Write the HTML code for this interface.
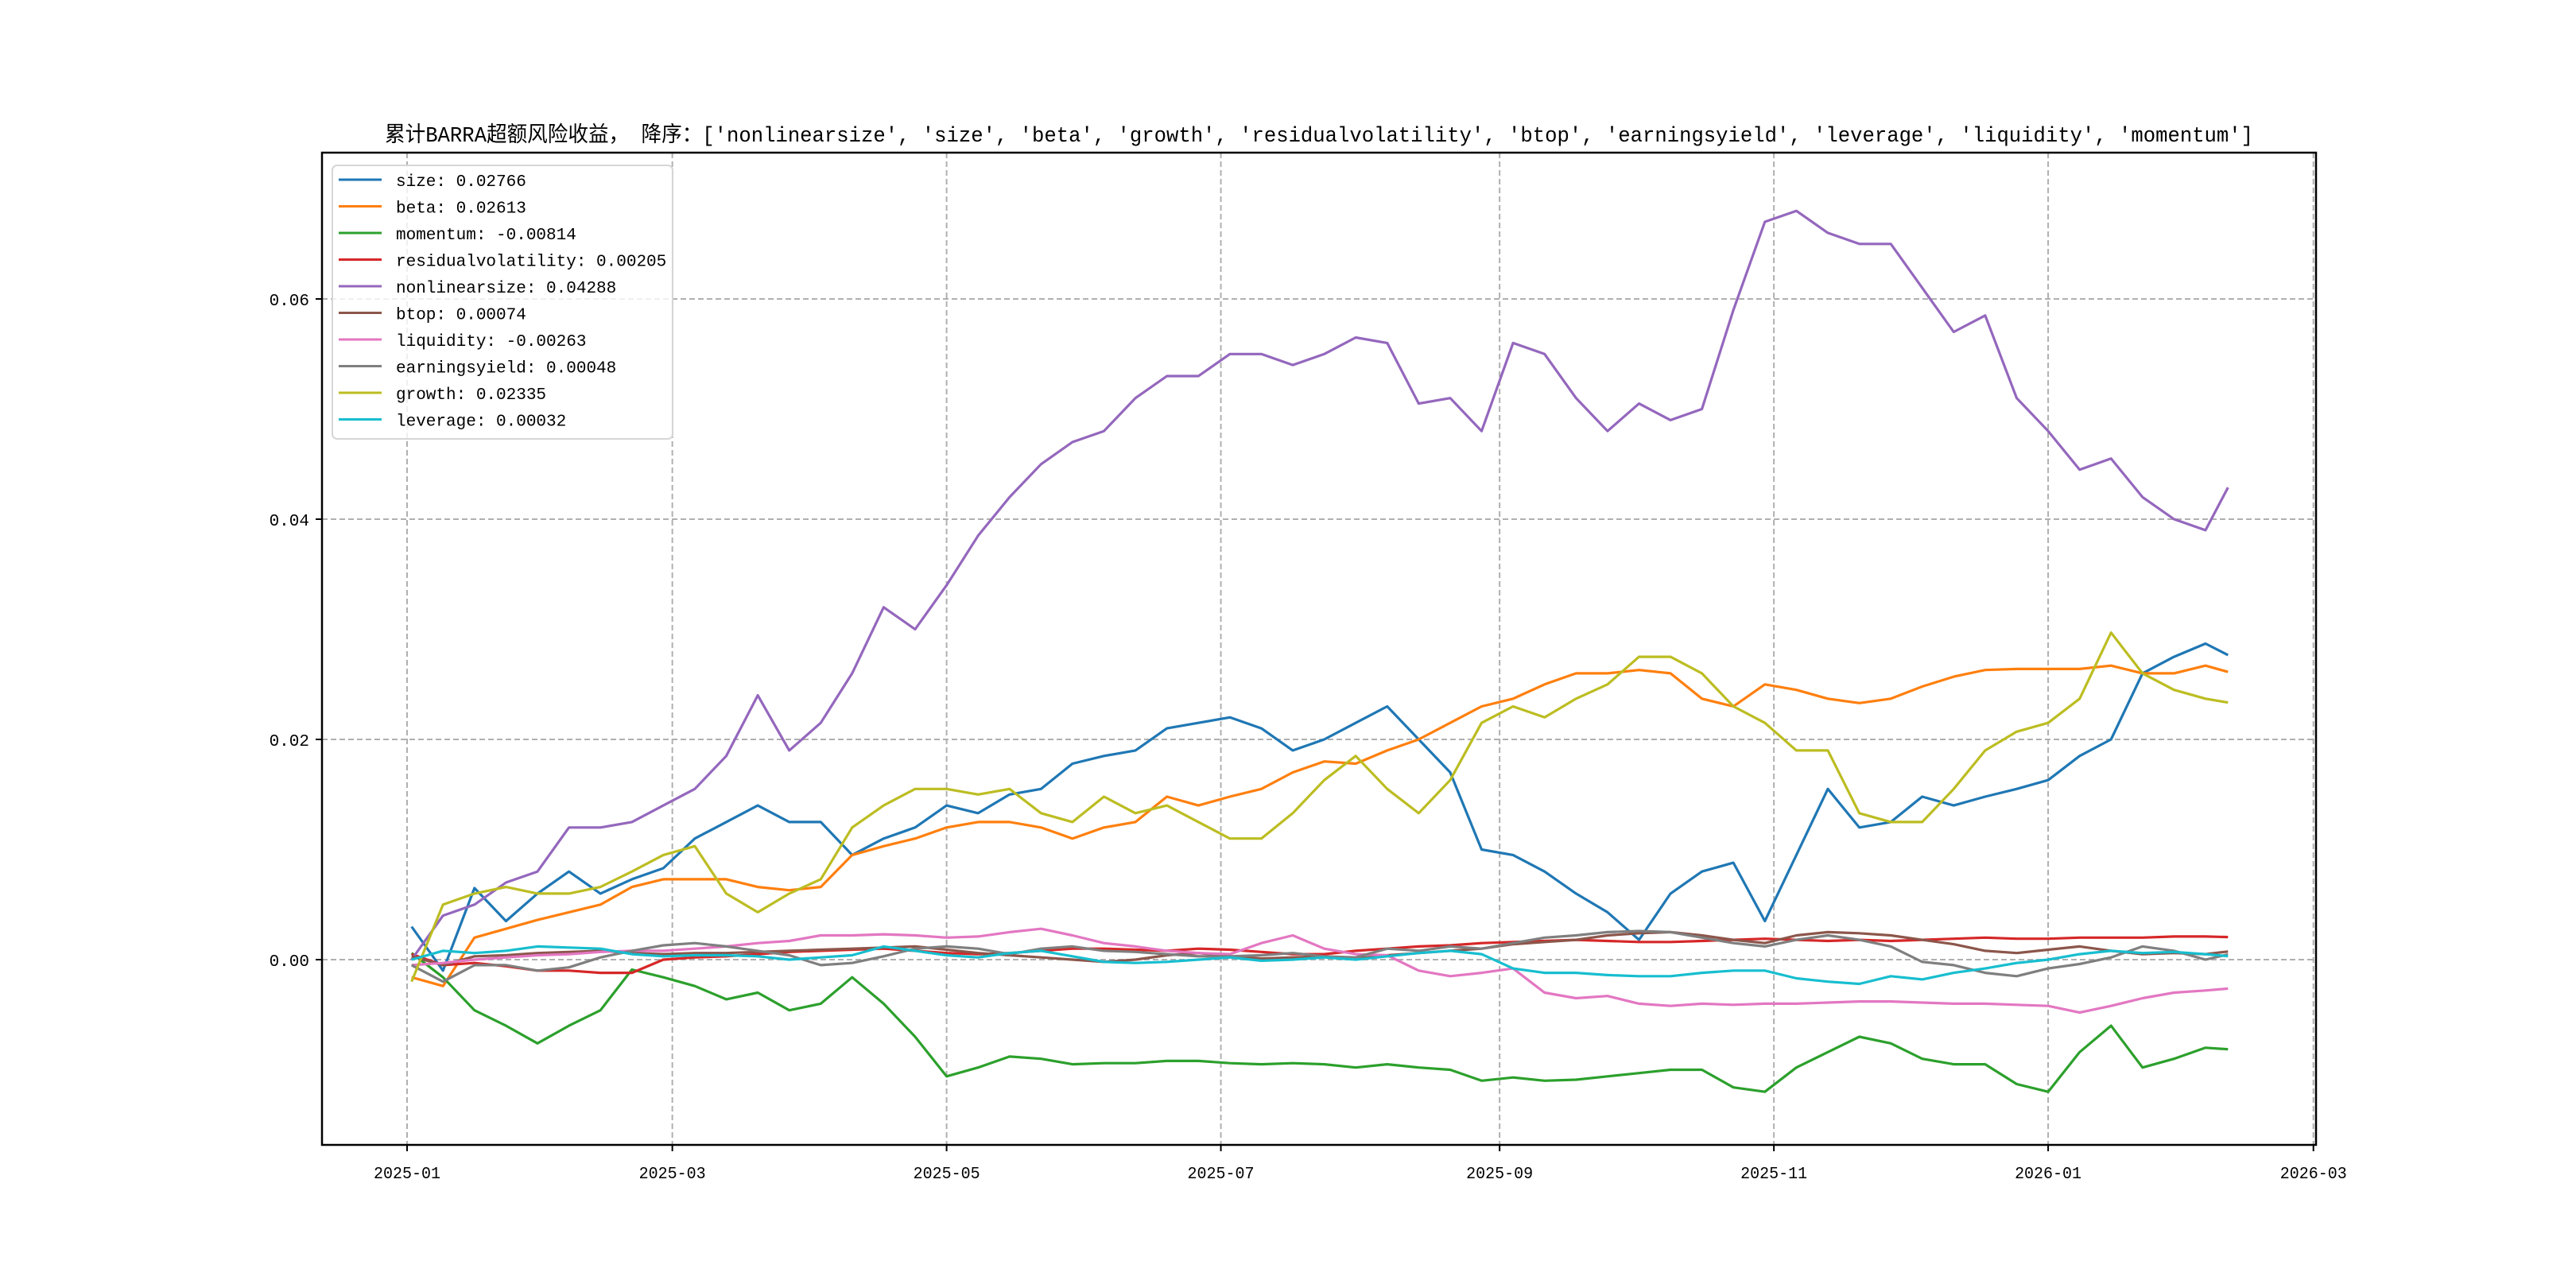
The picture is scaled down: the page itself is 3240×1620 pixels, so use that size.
<!DOCTYPE html>
<html><head><meta charset="utf-8"><style>
html,body{margin:0;padding:0;background:#fff;}
svg{display:block;font-family:"Liberation Mono","Noto Sans CJK SC",monospace;}
</style></head><body>
<svg id="chart" width="3240" height="1620" xmlns="http://www.w3.org/2000/svg">
<rect width="3240" height="1620" fill="#fff"/>
<text x="484" y="178" font-size="27" textLength="2350" lengthAdjust="spacingAndGlyphs">累计BARRA超额风险收益，  降序：['nonlinearsize', 'size', 'beta', 'growth', 'residualvolatility', 'btop', 'earningsyield', 'leverage', 'liquidity', 'momentum']</text>
<g id="grid"></g><g id="series"></g><g id="axes"></g><g id="legend"></g>
</svg>
<script>
const dates=["2025-01-02","2025-01-09","2025-01-16","2025-01-23","2025-01-30","2025-02-06","2025-02-13","2025-02-20","2025-02-27","2025-03-06","2025-03-13","2025-03-20","2025-03-27","2025-04-03","2025-04-10","2025-04-17","2025-04-24","2025-05-01","2025-05-08","2025-05-15","2025-05-22","2025-05-29","2025-06-05","2025-06-12","2025-06-19","2025-06-26","2025-07-03","2025-07-10","2025-07-17","2025-07-24","2025-07-31","2025-08-07","2025-08-14","2025-08-21","2025-08-28","2025-09-04","2025-09-11","2025-09-18","2025-09-25","2025-10-02","2025-10-09","2025-10-16","2025-10-23","2025-10-30","2025-11-06","2025-11-13","2025-11-20","2025-11-27","2025-12-04","2025-12-11","2025-12-18","2025-12-25","2026-01-01","2026-01-08","2026-01-15","2026-01-22","2026-01-29","2026-02-05","2026-02-10"];
const sizeVals=[0.003,-0.001,0.0065,0.0035,0.006,0.008,0.006,0.0073,0.0083,0.011,0.0125,0.014,0.0125,0.0125,0.0095,0.011,0.012,0.014,0.0133,0.015,0.0155,0.0178,0.0185,0.019,0.021,0.0215,0.022,0.021,0.019,0.020,0.0215,0.023,0.020,0.017,0.010,0.0095,0.008,0.006,0.0043,0.0018,0.006,0.008,0.0088,0.0035,0.0095,0.0155,0.012,0.0125,0.0148,0.014,0.0148,0.0155,0.0163,0.0185,0.020,0.026,0.0275,0.0287,0.02766];
const betaVals=[-0.0016,-0.0024,0.002,0.0028,0.0036,0.0043,0.005,0.0066,0.0073,0.0073,0.0073,0.0066,0.0063,0.0066,0.0095,0.0103,0.011,0.012,0.0125,0.0125,0.012,0.011,0.012,0.0125,0.0148,0.014,0.0148,0.0155,0.017,0.018,0.0178,0.019,0.020,0.0215,0.023,0.0237,0.025,0.026,0.026,0.0263,0.026,0.0237,0.023,0.025,0.0245,0.0237,0.0233,0.0237,0.0248,0.0257,0.0263,0.0264,0.0264,0.0264,0.0267,0.026,0.026,0.0267,0.02613];
const momentumVals=[0.0006,-0.0016,-0.0046,-0.006,-0.0076,-0.006,-0.0046,-0.0009,-0.0016,-0.0024,-0.0036,-0.003,-0.0046,-0.004,-0.0016,-0.004,-0.007,-0.0106,-0.0098,-0.0088,-0.009,-0.0095,-0.0094,-0.0094,-0.0092,-0.0092,-0.0094,-0.0095,-0.0094,-0.0095,-0.0098,-0.0095,-0.0098,-0.010,-0.011,-0.0107,-0.011,-0.0109,-0.0106,-0.0103,-0.010,-0.010,-0.0116,-0.012,-0.0098,-0.0084,-0.007,-0.0076,-0.009,-0.0095,-0.0095,-0.0113,-0.012,-0.0084,-0.006,-0.0098,-0.009,-0.008,-0.00814];
const residVals=[0.0005,-0.0005,-0.0003,-0.0006,-0.001,-0.001,-0.0012,-0.0012,0.0,0.0002,0.0003,0.0005,0.0007,0.0008,0.0009,0.001,0.0008,0.0006,0.0005,0.0006,0.0008,0.001,0.001,0.0009,0.0008,0.001,0.0009,0.0007,0.0005,0.0005,0.0008,0.001,0.0012,0.0013,0.0015,0.0016,0.0017,0.0018,0.0017,0.0016,0.0016,0.0017,0.0018,0.0019,0.0018,0.0017,0.0018,0.0017,0.0018,0.0019,0.002,0.0019,0.0019,0.002,0.002,0.002,0.0021,0.0021,0.00205];
const nonlinVals=[0.0,0.004,0.005,0.007,0.008,0.012,0.012,0.0125,0.014,0.0155,0.0185,0.024,0.019,0.0215,0.026,0.032,0.030,0.034,0.0385,0.042,0.045,0.047,0.048,0.051,0.053,0.053,0.055,0.055,0.054,0.055,0.0565,0.056,0.0505,0.051,0.048,0.056,0.055,0.051,0.048,0.0505,0.049,0.050,0.059,0.067,0.068,0.066,0.065,0.065,0.061,0.057,0.0585,0.051,0.048,0.0445,0.0455,0.042,0.040,0.039,0.04288];
const btopVals=[0.0003,-0.0005,0.0003,0.0004,0.0006,0.0007,0.0008,0.0006,0.0005,0.0006,0.0006,0.0007,0.0008,0.0009,0.001,0.0011,0.0012,0.0009,0.0006,0.0004,0.0002,0.0,-0.0002,0.0,0.0004,0.0006,0.0003,0.0001,0.0002,0.0003,0.0001,0.0004,0.0006,0.0008,0.001,0.0014,0.0016,0.0018,0.0022,0.0024,0.0025,0.0022,0.0018,0.0015,0.0022,0.0025,0.0024,0.0022,0.0018,0.0014,0.0008,0.0006,0.0009,0.0012,0.0008,0.0005,0.0006,0.0005,0.00074];
const liquidityVals=[-0.0005,-0.0003,0.0,0.0002,0.0004,0.0005,0.0007,0.0008,0.0008,0.001,0.0012,0.0015,0.0017,0.0022,0.0022,0.0023,0.0022,0.002,0.0021,0.0025,0.0028,0.0022,0.0015,0.0012,0.0008,0.0006,0.0005,0.0015,0.0022,0.001,0.0005,0.0004,-0.001,-0.0015,-0.0012,-0.0008,-0.003,-0.0035,-0.0033,-0.004,-0.0042,-0.004,-0.0041,-0.004,-0.004,-0.0039,-0.0038,-0.0038,-0.0039,-0.004,-0.004,-0.0041,-0.0042,-0.0048,-0.0042,-0.0035,-0.003,-0.0028,-0.00263];
const earningsVals=[-0.0005,-0.002,-0.0005,-0.0005,-0.001,-0.0007,0.0002,0.0008,0.0013,0.0015,0.0012,0.0008,0.0004,-0.0005,-0.0003,0.0003,0.001,0.0012,0.001,0.0005,0.001,0.0012,0.0008,0.0007,0.0005,0.0003,0.0003,0.0004,0.0006,0.0003,0.0002,0.001,0.0008,0.0012,0.001,0.0015,0.002,0.0022,0.0025,0.0026,0.0025,0.002,0.0015,0.0012,0.0018,0.0022,0.0018,0.0012,-0.0002,-0.0005,-0.0012,-0.0015,-0.0008,-0.0004,0.0002,0.0012,0.0008,0.0,0.00048];
const growthVals=[-0.002,0.005,0.006,0.0066,0.006,0.006,0.0066,0.008,0.0095,0.0103,0.006,0.0043,0.006,0.0073,0.012,0.014,0.0155,0.0155,0.015,0.0155,0.0133,0.0125,0.0148,0.0133,0.014,0.0125,0.011,0.011,0.0133,0.0163,0.0185,0.0155,0.0133,0.0163,0.0215,0.023,0.022,0.0237,0.025,0.0275,0.0275,0.026,0.023,0.0215,0.019,0.019,0.0133,0.0125,0.0125,0.0155,0.019,0.0207,0.0215,0.0237,0.0297,0.026,0.0245,0.0237,0.02335];
const leverageVals=[0.0,0.0008,0.0006,0.0008,0.0012,0.0011,0.001,0.0005,0.0003,0.0004,0.0004,0.0003,0.0,0.0002,0.0004,0.0012,0.0008,0.0004,0.0002,0.0006,0.0008,0.0003,-0.0002,-0.0003,-0.0002,0.0,0.0002,-0.0001,0.0,0.0002,0.0,0.0003,0.0006,0.0008,0.0005,-0.0008,-0.0012,-0.0012,-0.0014,-0.0015,-0.0015,-0.0012,-0.001,-0.001,-0.0017,-0.002,-0.0022,-0.0015,-0.0018,-0.0012,-0.0008,-0.0003,0.0,0.0005,0.0008,0.0006,0.0007,0.0005,0.00032];
const seriesNames=["size","beta","momentum","residualvolatility","nonlinearsize","btop","liquidity","earningsyield","growth","leverage"];
const seriesLabels=["size: 0.02766","beta: 0.02613","momentum: -0.00814","residualvolatility: 0.00205","nonlinearsize: 0.04288","btop: 0.00074","liquidity: -0.00263","earningsyield: 0.00048","growth: 0.02335","leverage: 0.00032"];
const seriesData=[sizeVals,betaVals,momentumVals,residVals,nonlinVals,btopVals,liquidityVals,earningsVals,growthVals,leverageVals];
const yTicks=[0,0.02,0.04,0.06];
const yTickLabels=["0.00","0.02","0.04","0.06"];
const xTicks=["2025-01-01","2025-03-01","2025-05-01","2025-07-01","2025-09-01","2025-11-01","2026-01-01","2026-03-01"];
const xTickLabels=["2025-01","2025-03","2025-05","2025-07","2025-09","2025-11","2026-01","2026-03"];

const colors=["#1f77b4","#ff7f0e","#2ca02c","#d62728","#9467bd","#8c564b","#e377c2","#7f7f7f","#bcbd22","#17becf"];
const L=405,R=2913,T=192,B=1440;
const day0=Date.UTC(2025,0,1);
function dayOf(s){const p=s.split("-");return (Date.UTC(+p[0],+p[1]-1,+p[2])-day0)/864e5;}
function xs(s){return 512+dayOf(s)*5.655;}
function ys(v){return 1207-v*13850;}
const NS="http://www.w3.org/2000/svg";
function mk(tag,parent,attrs){const e=document.createElementNS(NS,tag);for(const k in attrs)e.setAttribute(k,attrs[k]);parent.appendChild(e);return e;}
const grid=document.getElementById("grid"),ser=document.getElementById("series"),axes=document.getElementById("axes"),leg=document.getElementById("legend");
xTicks.forEach((d,i)=>{const x=xs(d);
 const g=mk("line",grid,{x1:x,x2:x,y1:T,y2:B,stroke:"#b0b0b0","stroke-width":2,"stroke-dasharray":"7,4"});
 
 
 const t=mk("line",axes,{x1:x,x2:x,y1:B,y2:B+8,stroke:"#000","stroke-width":2});
 
 
 const lb=mk("text",axes,{x:x,y:B+42,"font-size":21,"text-anchor":"middle",textLength:84,lengthAdjust:"spacingAndGlyphs"});lb.textContent=xTickLabels[i];
 
 
});
yTicks.forEach((v,i)=>{const y=ys(v);
 const g=mk("line",grid,{x1:L,x2:R,y1:y,y2:y,stroke:"#b0b0b0","stroke-width":2,"stroke-dasharray":"7,4"});
 
 
 const t=mk("line",axes,{x1:L-8,x2:L,y1:y,y2:y,stroke:"#000","stroke-width":2});
 
 
 const lb=mk("text",axes,{x:L-16,y:y+8,"font-size":21,"text-anchor":"end"});lb.textContent=yTickLabels[i];
 
 
});
seriesData.forEach((arr,k)=>{
 const pts=arr.map((v,i)=>xs(dates[i]).toFixed(1)+","+ys(v).toFixed(1)).join(" ");
 const p=mk("polyline",ser,{points:pts,fill:"none",stroke:colors[k],"stroke-width":3.2,"stroke-linejoin":"round"});
 
 
});
const frame=mk("rect",axes,{x:L,y:T,width:R-L,height:B-T,fill:"none",stroke:"#000","stroke-width":2.5});


const box=mk("rect",leg,{x:418,y:208,width:428,height:344,rx:6,fill:"#fff","fill-opacity":0.8,stroke:"#d6d6d6","stroke-width":2});


seriesLabels.forEach((s,k)=>{const y=226+k*33.5;
 const ln=mk("line",leg,{x1:426,x2:480,y1:y,y2:y,stroke:colors[k],"stroke-width":3});
 
 
 const t=mk("text",leg,{x:498,y:y+8,"font-size":21});t.textContent=s;
 
 
});
</script>
</body></html>
